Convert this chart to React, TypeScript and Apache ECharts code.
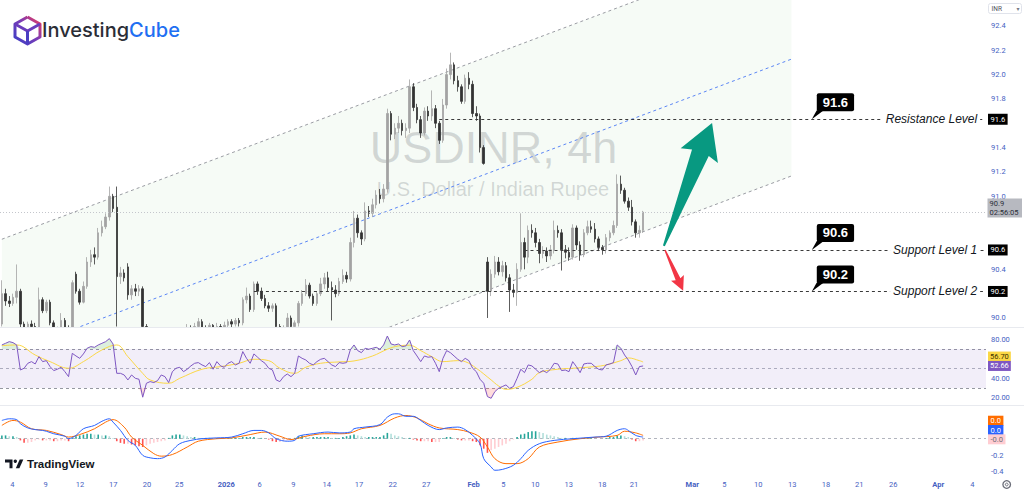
import React, { useEffect, useRef } from "react";
import * as echarts from "echarts";

// ---------- axis slots (one slot per 8h candle) ----------
const SLOTS = 266;
const CATS = Array.from({ length: SLOTS }, (_, i) => String(i));

// ---------- USD/INR candles : [open, close, low, high] ----------
const candles: number[][] = [
  [89.95, 90.2, 89.93, 90.31], [90.2, 90.14, 90.1, 90.24], [90.14, 90.12, 90.09, 90.18], [90.12, 90.17, 90.1, 90.2],
  [90.17, 90.22, 90.12, 90.44], [90.22, 89.95, 89.92, 90.24], [89.95, 89.88, 89.84, 89.97], [89.88, 89.95, 89.85, 89.97],
  [89.95, 89.93, 89.9, 89.98], [89.93, 89.9, 89.87, 89.96], [89.9, 90.15, 89.88, 90.25], [90.15, 90.06, 90.04, 90.17],
  [90.06, 90.13, 90.04, 90.15], [90.13, 89.96, 89.94, 90.15], [89.96, 89.88, 89.84, 89.98], [89.88, 89.9, 89.85, 89.93],
  [89.9, 89.98, 89.88, 90.04], [89.98, 89.92, 89.89, 90.0], [89.92, 89.9, 89.87, 89.94], [89.9, 90.29, 89.88, 90.31],
  [90.36, 90.22, 90.2, 90.38], [90.22, 90.13, 90.11, 90.24], [90.13, 90.26, 90.12, 90.3], [90.26, 90.46, 90.24, 90.5],
  [90.46, 90.52, 90.42, 90.56], [90.52, 90.5, 90.44, 90.58], [90.5, 90.7, 90.48, 90.74], [90.7, 90.75, 90.67, 90.8],
  [90.75, 90.83, 90.73, 90.86], [90.83, 91.0, 90.8, 91.08], [91.0, 90.9, 90.87, 91.02], [90.91, 90.34, 89.93, 91.08],
  [90.34, 90.37, 90.28, 90.42], [90.37, 90.33, 90.3, 90.4], [90.42, 90.19, 90.15, 90.45], [90.19, 90.24, 90.15, 90.27],
  [90.24, 90.22, 90.18, 90.28], [90.22, 90.24, 90.18, 90.27], [90.24, 89.93, 89.88, 90.26], [89.93, 89.85, 89.8, 89.95],
  [89.85, 89.8, 89.75, 89.88], [89.8, 89.78, 89.72, 89.84], [89.78, 89.82, 89.74, 89.86], [89.82, 89.76, 89.72, 89.85],
  [89.76, 89.8, 89.72, 89.84], [89.8, 89.84, 89.77, 89.88], [89.84, 89.82, 89.78, 89.87], [89.82, 89.86, 89.79, 89.9],
  [89.86, 89.84, 89.8, 89.89], [89.84, 89.87, 89.81, 89.9], [89.87, 89.92, 89.84, 89.95], [89.92, 89.89, 89.86, 89.94],
  [89.89, 89.93, 89.86, 89.96], [89.93, 89.97, 89.9, 90.0], [89.97, 89.91, 89.88, 89.99], [89.91, 89.89, 89.86, 89.94],
  [89.89, 89.94, 89.87, 89.96], [89.94, 89.9, 89.87, 89.95], [89.9, 89.93, 89.88, 89.96], [89.93, 89.91, 89.88, 89.95],
  [89.91, 89.94, 89.89, 89.97], [89.94, 89.97, 89.91, 89.99], [89.97, 89.95, 89.92, 89.99], [89.95, 89.98, 89.93, 90.0],
  [89.98, 89.96, 89.93, 90.0], [89.96, 90.15, 89.94, 90.17], [90.15, 90.18, 90.12, 90.25], [90.18, 90.07, 90.05, 90.2],
  [90.07, 90.28, 90.05, 90.3], [90.28, 90.22, 90.19, 90.3], [90.22, 90.16, 90.14, 90.25], [90.16, 90.1, 90.08, 90.19],
  [90.1, 90.08, 90.05, 90.13], [90.08, 90.1, 90.05, 90.12], [90.1, 89.93, 89.9, 90.12], [89.93, 89.88, 89.85, 89.95],
  [89.88, 89.91, 89.86, 89.94], [89.91, 90.0, 89.89, 90.04], [90.0, 89.93, 89.9, 90.02], [89.93, 89.96, 89.9, 89.98],
  [89.96, 90.12, 89.93, 90.14], [90.12, 90.2, 90.1, 90.23], [90.2, 90.27, 90.18, 90.32], [90.27, 90.18, 90.16, 90.29],
  [90.18, 90.12, 90.1, 90.2], [90.12, 90.2, 90.1, 90.22], [90.2, 90.28, 90.18, 90.33], [90.28, 90.33, 90.24, 90.37],
  [90.33, 90.25, 90.22, 90.38], [90.25, 90.23, 89.98, 90.3], [90.23, 90.2, 90.17, 90.27], [90.2, 90.3, 90.18, 90.33],
  [90.3, 90.35, 90.28, 90.4], [90.35, 90.32, 90.29, 90.38], [90.32, 90.62, 90.3, 90.66], [90.62, 90.82, 90.58, 90.88],
  [90.82, 90.7, 90.66, 90.85], [90.7, 90.65, 90.6, 90.72], [90.65, 90.88, 90.63, 90.95], [90.88, 90.86, 90.83, 90.92],
  [90.86, 90.93, 90.83, 90.98], [90.93, 91.01, 90.9, 91.05], [91.01, 90.98, 90.94, 91.06], [90.98, 91.06, 90.95, 91.1],
  [91.06, 91.68, 91.03, 91.72], [91.68, 91.51, 91.46, 91.7], [91.51, 91.56, 91.47, 91.6], [91.56, 91.6, 91.52, 91.66],
  [91.6, 91.54, 91.5, 91.63], [91.54, 91.56, 91.48, 91.6], [91.56, 91.9, 91.52, 91.96], [91.9, 91.73, 91.7, 91.93],
  [91.73, 91.63, 91.6, 91.76], [91.63, 91.52, 91.48, 91.66], [91.52, 91.7, 91.5, 91.73], [91.7, 91.66, 91.62, 91.74],
  [91.66, 91.72, 91.62, 91.87], [91.72, 91.6, 91.56, 91.75], [91.6, 91.46, 91.43, 91.62], [91.46, 91.75, 91.44, 91.8],
  [91.75, 92.0, 91.72, 92.05], [92.0, 92.08, 91.96, 92.18], [92.08, 91.95, 91.92, 92.1], [91.95, 91.9, 91.86, 91.99],
  [91.9, 91.78, 91.76, 91.92], [91.78, 91.97, 91.76, 92.0], [91.97, 91.92, 91.88, 92.02], [91.92, 91.68, 91.65, 91.95],
  [91.68, 91.66, 91.62, 91.74], [91.66, 91.4, 91.36, 91.68], [91.4, 91.27, 91.26, 91.42], [90.46, 90.22, 90.0, 90.5],
  [90.22, 90.36, 90.18, 90.4], [90.36, 90.46, 90.33, 90.51], [90.46, 90.38, 90.35, 90.5], [90.38, 90.43, 90.34, 90.47],
  [90.43, 90.33, 90.3, 90.46], [90.33, 90.23, 90.05, 90.36], [90.23, 90.21, 90.17, 90.28], [90.21, 90.4, 90.1, 90.45],
  [90.4, 90.62, 90.38, 90.86], [90.62, 90.5, 90.4, 90.66], [90.5, 90.72, 90.45, 90.76], [90.72, 90.7, 90.66, 90.77],
  [90.7, 90.62, 90.58, 90.74], [90.62, 90.53, 90.45, 90.65], [90.53, 90.55, 90.49, 90.59], [90.55, 90.51, 90.46, 90.58],
  [90.51, 90.56, 90.48, 90.6], [90.56, 90.72, 90.53, 90.8], [90.72, 90.7, 90.66, 90.76], [90.7, 90.56, 90.39, 90.73],
  [90.56, 90.54, 90.49, 90.6], [90.54, 90.5, 90.47, 90.58], [90.5, 90.74, 90.48, 90.77], [90.74, 90.6, 90.56, 90.76],
  [90.6, 90.52, 90.47, 90.63], [90.52, 90.7, 90.5, 90.73], [90.7, 90.75, 90.68, 90.8], [90.75, 90.73, 90.7, 90.8],
  [90.73, 90.65, 90.62, 90.78], [90.65, 90.58, 90.55, 90.67], [90.58, 90.56, 90.52, 90.6], [90.56, 90.66, 90.53, 90.69],
  [90.66, 90.7, 90.63, 90.72], [90.7, 90.76, 90.68, 90.8], [90.76, 91.1, 90.74, 91.18], [91.1, 91.05, 91.02, 91.17],
  [91.05, 90.96, 90.94, 91.07], [90.96, 90.91, 90.88, 90.99], [90.91, 90.79, 90.76, 90.97], [90.79, 90.7, 90.66, 90.81],
  [90.7, 90.72, 90.66, 90.76], [90.72, 90.87, 90.7, 90.88],
];

// ---------- RSI(14) and its MA ----------
const rsi: number[] = [
  74.2, 75.9, 77.6, 76.6, 74.2, 48.5, 50.3, 55.4, 57.1, 54.7,
  62.2, 57.1, 58.1, 52.0, 47.9, 49.3, 51.3, 46.8, 41.7, 65.6,
  62.9, 60.5, 65.0, 70.8, 72.5, 71.8, 74.2, 75.9, 77.6, 80.7,
  75.2, 45.1, 45.1, 43.4, 38.3, 43.4, 40.0, 39.0, 20.6, 34.9,
  36.6, 35.6, 37.6, 43.4, 41.7, 35.6, 46.8, 50.3, 51.3, 46.8,
  49.3, 52.7, 55.4, 56.1, 53.7, 52.0, 56.1, 49.3, 57.1, 52.7,
  51.3, 55.4, 57.1, 53.7, 55.4, 67.4, 60.5, 55.4, 65.0, 61.6,
  58.1, 55.4, 50.3, 48.5, 38.3, 36.6, 41.7, 44.4, 41.7, 45.1,
  62.9, 60.5, 58.8, 55.4, 53.7, 57.1, 59.5, 60.5, 57.1, 53.7,
  52.0, 56.1, 55.4, 56.1, 69.1, 74.2, 68.4, 66.3, 70.8, 69.8,
  70.8, 71.8, 69.8, 74.2, 83.4, 75.2, 74.2, 75.2, 72.5, 73.2,
  79.3, 68.4, 62.9, 57.1, 62.9, 61.6, 62.2, 55.4, 46.8, 60.5,
  68.4, 66.3, 62.9, 59.5, 57.1, 60.5, 58.1, 50.3, 46.8, 39.0,
  34.9, 21.2, 19.5, 26.3, 29.7, 31.5, 33.2, 29.7, 31.5, 40.0,
  49.3, 45.8, 53.7, 52.7, 49.3, 45.8, 47.9, 45.8, 49.3, 55.4,
  54.7, 47.9, 48.5, 46.8, 57.1, 52.0, 45.8, 54.7, 55.4, 55.4,
  52.0, 49.3, 48.5, 53.7, 54.7, 56.1, 74.2, 70.8, 63.9, 58.8,
  52.0, 43.4, 52.0, 52.66,
];
const rsiMA: number[][] = [
  [0, 73.5], [4, 74.2], [8.5, 63.9], [13, 57.1], [18.4, 50.3], [22, 57.1], [27, 69.1], [30.5, 74.2],
  [34, 62.2], [37.5, 45.1], [40, 38.3], [44.5, 34.9], [48, 40.0], [53.5, 49.3], [59, 52.0], [64, 55.4],
  [68, 59.5], [71.5, 58.1], [75, 50.3], [78.6, 45.1], [82, 51.3], [86, 55.4], [91, 56.8], [94.8, 57.8],
  [100, 62.9], [104, 69.8], [107.4, 73.2], [110, 73.9], [113, 68.4], [116, 62.2], [119, 57.1], [122.7, 58.1],
  [125.4, 57.1], [128, 50.3], [131.7, 38.3], [134, 32.2], [136.2, 28.7], [138.9, 30.8], [142.5, 39.0],
  [145.2, 45.8], [149.7, 49.3], [154.2, 50.3], [159.5, 52.0], [163.1, 53.7], [166.7, 58.1], [169.4, 60.9],
  [172, 58.1], [173, 56.7],
];
const rsiBand = [30, 70];
const rsiMidLine = 50;

// ---------- MACD (12,26,9) ----------
const macdLine: number[][] = [
  [0, 0.22], [2, 0.24], [4, 0.23], [5, 0.18], [7, 0.13], [9, 0.11], [11, 0.1], [12, 0.09], [14, 0.06], [17, 0.03],
  [18, 0.0], [20, 0.04], [22, 0.12], [25, 0.16], [27, 0.21], [29, 0.24], [30, 0.2], [32, 0.1], [34, -0.02], [36, -0.08],
  [38, -0.2], [40, -0.23], [42, -0.24], [44, -0.22], [46, -0.14], [48, -0.06], [51, -0.02], [54, 0.0], [58, 0.01],
  [62, 0.02], [65, 0.06], [68, 0.1], [70, 0.1], [72, 0.07], [74, 0.0], [77, -0.03], [79, -0.02], [80, 0.03], [84, 0.06],
  [88, 0.08], [91, 0.07], [94, 0.08], [95, 0.12], [98, 0.14], [102, 0.17], [104, 0.26], [106, 0.3], [107, 0.3],
  [109, 0.27], [111, 0.27], [113, 0.22], [115, 0.16], [118, 0.11], [120, 0.13], [123, 0.14], [125, 0.11], [127, 0.04],
  [129, -0.06], [130, -0.24], [132, -0.34], [133, -0.38], [135, -0.37], [138, -0.32], [140, -0.24], [142, -0.14],
  [145, -0.06], [149, -0.02], [154, 0.0], [160, 0.02], [163, 0.03], [166, 0.1], [168, 0.12], [169, 0.1], [171, 0.04],
  [173, 0.02],
];
const signalLine: number[][] = [
  [0, 0.16], [3, 0.22], [5, 0.2], [8, 0.12], [12, 0.1], [16, 0.05], [18, 0.02], [21, 0.05], [25, 0.12], [28, 0.2],
  [30, 0.23], [33, 0.14], [35, 0.02], [38, -0.08], [41, -0.18], [43, -0.21], [46, -0.19], [50, -0.1], [53, -0.03],
  [58, 0.0], [62, 0.01], [67, 0.05], [71, 0.08], [75, 0.03], [78, -0.01], [82, 0.03], [87, 0.06], [91, 0.06],
  [94, 0.07], [97, 0.12], [102, 0.16], [106, 0.25], [109, 0.28], [112, 0.25], [115, 0.18], [118, 0.13], [123, 0.11],
  [126, 0.08], [129, 0.02], [131, -0.1], [133, -0.24], [136, -0.3], [139, -0.3], [142, -0.24], [145, -0.1],
  [150, -0.04], [156, 0.0], [161, 0.02], [166, 0.04], [168, 0.09], [171, 0.07], [173, 0.04],
];
const histogram: number[] = [
  0.04, 0.04, 0.03, 0.03, 0.02, -0.02, -0.05, -0.05, -0.04, -0.02,
  -0.01, -0.02, -0.02, -0.02, -0.03, -0.03, -0.02, -0.02, -0.03, 0.01,
  0.03, 0.04, 0.05, 0.06, 0.06, 0.05, 0.05, 0.04, 0.04, 0.03,
  0.01, -0.03, -0.05, -0.06, -0.06, -0.07, -0.08, -0.09, -0.1, -0.08,
  -0.06, -0.05, -0.04, -0.03, -0.02, 0.01, 0.04, 0.05, 0.05, 0.04,
  0.03, 0.02, 0.02, 0.01, 0.01, 0.01, 0.01, 0.0, 0.01, 0.01,
  0.0, 0.01, 0.01, 0.01, 0.01, 0.02, 0.02, 0.02, 0.02, 0.01,
  0.01, 0.0, -0.01, -0.03, -0.04, -0.04, -0.03, -0.02, -0.01, 0.01,
  0.03, 0.04, 0.03, 0.02, 0.02, 0.02, 0.02, 0.02, 0.02, 0.01,
  0.01, 0.01, 0.02, 0.03, 0.04, 0.05, 0.04, 0.03, 0.02, 0.02,
  0.02, 0.02, 0.02, 0.04, 0.07, 0.06, 0.04, 0.03, 0.02, 0.01,
  0.01, -0.01, -0.02, -0.03, -0.03, -0.03, -0.04, -0.04, -0.04, 0.01,
  0.02, 0.02, 0.01, -0.01, -0.02, -0.02, -0.02, -0.03, -0.04, -0.08,
  -0.12, -0.17, -0.14, -0.12, -0.1, -0.08, -0.06, -0.03, -0.01, 0.02,
  0.05, 0.06, 0.08, 0.09, 0.09, 0.08, 0.07, 0.05, 0.04, 0.03,
  0.02, 0.01, 0.01, 0.0, 0.01, 0.01, 0.0, 0.01, 0.01, 0.01,
  0.0, 0.0, 0.0, 0.01, 0.02, 0.02, 0.04, 0.04, 0.03, 0.02,
  -0.01, -0.03, -0.03, -0.02,
];

// ---------- tick labels ----------
const timeTickPos = [2.82, 11.83, 21.08, 30.06, 39.15, 47.87, 60.55, 69.56, 78.62, 87.63, 96.34, 105.44, 114.5,
  127.29, 135.27, 143.9, 152.91, 161.98, 170.53, 186.25, 194.89, 204.06, 213.23, 222.32, 231.3, 240.47, 252.62, 261.79];
const timeTickText = ["4", "9", "12", "17", "20", "25", "2026", "6", "9", "14", "17", "22", "27",
  "Feb", "5", "10", "13", "18", "21", "Mar", "5", "10", "13", "18", "21", "26", "Apr", "4"];
const boldTicks = ["2026", "Feb", "Mar", "Apr"];
const priceTicks = [90.0, 90.4, 91.0, 91.2, 91.4, 91.8, 92.0, 92.2, 92.4];
const rsiTicks = [20, 40, 80];
const macdTicks = [-0.4, -0.2];

// ---------- drawings ----------
const channelUpper = [[0, 90.647], [213, 93.086]];
const channelMid = [[0, 89.687], [213, 92.127]];
const channelLower = [[0, 88.727], [213, 91.167]];
const levels = [
  { name: "Resistance Level", price: 91.633, label: "91.6", from: 118 },
  { name: "Support Level 1", price: 90.559, label: "90.6", from: 141 },
  { name: "Support Level 2", price: 90.218, label: "90.2", from: 68 },
];
const levelEnd = 265;
const calloutIdx = 218.5;
const upArrow = { from: [178.6, 90.592], to: [191.6, 91.602] };
const downArrow = { from: [178.9, 90.559], to: [183.8, 90.224] };
const countdown = "02:56:05";

const AXIS_BLUE = "#4661c2";
const FONT = "Roboto";

function histColor(i: number) {
  const v = histogram[i];
  const p = i > 0 ? histogram[i - 1] : v;
  if (v >= 0) return v >= p ? "#26a69a" : "#b2dfdb";
  return v < p ? "#ff5252" : "#ffcdd2";
}

function buildOption(): any {
  const lastPrice = candles[candles.length - 1][1];
  const hiddenCat = (g: number) => ({
    type: "category", gridIndex: g, data: CATS, show: false, boundaryGap: true,
  });
  const yBase = {
    position: "right", axisLine: { show: false }, axisTick: { show: false }, splitLine: { show: false }, z: 10,
  };
  const dash = [3, 3];
  return {
    animation: false,
    backgroundColor: "#ffffff",
    grid: [
      { left: 0, top: 0, width: 986, height: 327, outerBoundsMode: "none" },
      { left: 0, top: 328, width: 986, height: 77, outerBoundsMode: "none" },
      { left: 0, top: 406, width: 986, height: 71, outerBoundsMode: "none" },
    ],
    xAxis: [
      hiddenCat(0), hiddenCat(1), hiddenCat(2),
      {
        type: "value", gridIndex: 2, min: -0.5, max: SLOTS - 0.5, position: "bottom", z: 10,
        axisLine: { show: false }, axisTick: { show: false }, splitLine: { show: false },
        axisLabel: {
          customValues: timeTickPos, margin: 3, color: AXIS_BLUE, fontSize: 7.5, fontFamily: FONT,
          formatter: (v: number) => {
            const k = timeTickPos.findIndex((p) => Math.abs(p - v) < 1e-6);
            const t = k >= 0 ? timeTickText[k] : "";
            return boldTicks.includes(t) ? `{b|${t}}` : t;
          },
          rich: { b: { fontWeight: "bold", color: AXIS_BLUE, fontSize: 7.5, fontFamily: FONT } },
        },
      },
    ],
    yAxis: [
      {
        ...yBase, type: "value", gridIndex: 0, min: 89.926, max: 92.613,
        axisLabel: { customValues: priceTicks, formatter: (v: number) => v.toFixed(1), color: AXIS_BLUE, fontSize: 7.5, fontFamily: FONT, margin: 5 },
      },
      {
        ...yBase, type: "value", gridIndex: 1, min: 12.6, max: 91.6,
        axisLabel: { customValues: rsiTicks, formatter: (v: number) => v.toFixed(2), color: AXIS_BLUE, fontSize: 7.5, fontFamily: FONT, margin: 5 },
      },
      {
        ...yBase, type: "value", gridIndex: 2, min: -0.461, max: 0.394,
        axisLabel: { customValues: macdTicks, formatter: (v: number) => v.toFixed(1), color: AXIS_BLUE, fontSize: 7.5, fontFamily: FONT, margin: 5 },
      },
    ],
    series: [
      {
        type: "custom", name: "channelFill", xAxisIndex: 0, yAxisIndex: 0, clip: true, z: 1, silent: true,
        data: [[0, 91]],
        renderItem: (_p: any, api: any) => {
          const pts = [channelUpper[0], channelUpper[1], channelLower[1], channelLower[0]].map((p) => api.coord(p));
          return { type: "polygon", shape: { points: pts }, style: { fill: "rgba(76,175,80,0.052)" } };
        },
      },
      ...[
        { d: channelUpper, c: "#9a9ca3" },
        { d: channelMid, c: "#5b86f5" },
        { d: channelLower, c: "#9a9ca3" },
      ].map((s) => ({
        type: "line", xAxisIndex: 0, yAxisIndex: 0, data: s.d, symbol: "none", silent: true, z: 2,
        lineStyle: { color: s.c, width: 1, type: [3, 3] },
      })),
      {
        type: "candlestick", name: "USDINR", xAxisIndex: 0, yAxisIndex: 0, data: candles, barWidth: 2, clip: true, z: 3,
        itemStyle: { color: "#a3a3a3", color0: "#333333", borderColor: "#a3a3a3", borderColor0: "#333333", borderWidth: 0.8 },
        markLine: {
          silent: true, symbol: ["none", "none"], label: { show: false }, animation: false,
          data: [
            ...levels.map((l) => [
              { coord: [l.from, l.price], lineStyle: { color: "#3a3a3a", width: 1, type: [3, 3] } },
              { coord: [levelEnd, l.price] },
            ]),
            { yAxis: lastPrice, lineStyle: { color: "#c4c6cc", width: 1, type: [1, 2] } },
          ],
        },
      },
      // RSI band (30-70)
      {
        type: "custom", name: "rsiBand", xAxisIndex: 1, yAxisIndex: 1, z: 5, silent: true,
        data: [[0, 50]],
        renderItem: (params: any, api: any) => {
          const cs = params.coordSys;
          const yTop = api.coord([0, rsiBand[1]])[1];
          const yBot = api.coord([0, rsiBand[0]])[1];
          return { type: "rect", shape: { x: cs.x, y: yTop, width: cs.width, height: yBot - yTop }, style: { fill: "rgba(126,87,194,0.1)" } };
        },
      },
      {
        type: "line", xAxisIndex: 1, yAxisIndex: 1, data: rsi.map((v) => Math.max(v, rsiBand[1])), symbol: "none", silent: true,
        lineStyle: { opacity: 0 }, areaStyle: { origin: rsiBand[1], color: "rgba(76,175,80,0.28)" }, z: 5,
      },
      {
        type: "line", xAxisIndex: 1, yAxisIndex: 1, data: rsi.map((v) => Math.min(v, rsiBand[0])), symbol: "none", silent: true,
        lineStyle: { opacity: 0 }, areaStyle: { origin: rsiBand[0], color: "rgba(255,82,82,0.28)" }, z: 5,
      },
      {
        type: "line", name: "RSI", xAxisIndex: 1, yAxisIndex: 1, data: rsi, symbol: "none", z: 7,
        lineStyle: { color: "#7e57c2", width: 1 },
        markLine: {
          silent: true, symbol: ["none", "none"], label: { show: false },
          data: [
            { yAxis: rsiBand[1], lineStyle: { color: "#9598a1", width: 1, type: dash } },
            { yAxis: rsiMidLine, lineStyle: { color: "#b2b5be", width: 1, type: dash } },
            { yAxis: rsiBand[0], lineStyle: { color: "#9598a1", width: 1, type: dash } },
          ],
        },
      },
      {
        type: "line", name: "RSI MA", xAxisIndex: 1, yAxisIndex: 1, data: rsiMA, symbol: "none", smooth: 0.4, z: 6,
        lineStyle: { color: "#fbd745", width: 1 },
      },
      // MACD
      {
        type: "bar", name: "Histogram", xAxisIndex: 2, yAxisIndex: 2, barWidth: 1.6, z: 5,
        data: histogram.map((v, i) => ({ value: v, itemStyle: { color: histColor(i) } })),
        markLine: {
          silent: true, symbol: ["none", "none"], label: { show: false },
          data: [{ yAxis: 0, lineStyle: { color: "#b2b5be", width: 1, type: dash } }],
        },
      },
      {
        type: "line", name: "MACD", xAxisIndex: 2, yAxisIndex: 2, data: macdLine, symbol: "none", smooth: 0.35, z: 7,
        lineStyle: { color: "#2962ff", width: 1 },
      },
      {
        type: "line", name: "Signal", xAxisIndex: 2, yAxisIndex: 2, data: signalLine, symbol: "none", smooth: 0.35, z: 6,
        lineStyle: { color: "#ff6d00", width: 1 },
      },
    ],
  };
}

function arrowPts(T: number[], P: number[], tailHalf: number, shaftHalf: number, headLen: number, headHalf: number, notch: number) {
  const dx = P[0] - T[0], dy = P[1] - T[1];
  const L = Math.hypot(dx, dy);
  const ux = dx / L, uy = dy / L, nx = -uy, ny = ux;
  const at = (a: number, w: number) => [T[0] + ux * a + nx * w, T[1] + uy * a + ny * w];
  const hb = L - headLen;
  return [at(0, -tailHalf), at(hb + notch, -shaftHalf), at(hb, -headHalf), at(L, 0), at(hb, headHalf), at(hb + notch, shaftHalf), at(0, tailHalf)];
}

function buildGraphics(chart: any): any[] {
  const xPx = (i: number) => chart.convertToPixel({ xAxisIndex: 3 }, i) as number;
  const yPx = (ax: number, v: number) => chart.convertToPixel({ yAxisIndex: ax }, v) as number;
  const els: any[] = [];
  const top = 100;

  // mask below the price pane so candles below its range stay inside it
  els.push({ type: "rect", silent: true, z: 4, shape: { x: 0, y: 327.5, width: 986, height: 150 }, style: { fill: "#ffffff" } });

  // pane separators
  [327.5, 405.5].forEach((y) =>
    els.push({ type: "line", silent: true, z: top, shape: { x1: 0, y1: y, x2: 1024, y2: y }, style: { stroke: "#e8eaef", lineWidth: 1 } })
  );

  // watermark
  els.push({
    type: "text", silent: true, z: 0, x: 493.5, y: 147,
    style: { text: "USDINR, 4h", fontSize: 45, fontFamily: "Liberation Sans", fill: "rgba(120,123,134,0.28)", align: "center", verticalAlign: "middle" },
  });
  els.push({
    type: "text", silent: true, z: 0, x: 493, y: 189,
    style: { text: "U.S. Dollar / Indian Rupee", fontSize: 20, fontFamily: "Liberation Sans", fill: "rgba(120,123,134,0.28)", align: "center", verticalAlign: "middle" },
  });

  // InvestingCube logo
  const grad = new echarts.graphic.LinearGradient(0, 1, 1, 0, [
    { offset: 0, color: "#3a3fc6" }, { offset: 0.55, color: "#7b3cb6" }, { offset: 1, color: "#ee3a5b" },
  ]);
  els.push({
    type: "polyline", silent: true, z: top,
    shape: { points: [[27.5, 17], [40, 24], [40, 37], [27.5, 44], [15, 37], [15, 24], [27.5, 17]] },
    style: { stroke: grad, fill: "none", lineWidth: 3, lineJoin: "round" },
  });
  els.push({
    type: "polyline", silent: true, z: top,
    shape: { points: [[15, 24], [27.5, 31], [40, 24]] },
    style: { stroke: "#6a3cbc", fill: "none", lineWidth: 3, lineJoin: "round" },
  });
  els.push({ type: "line", silent: true, z: top, shape: { x1: 27.5, y1: 31, x2: 27.5, y2: 44 }, style: { stroke: "#4a3ec2", lineWidth: 3 } });
  els.push({
    type: "text", silent: true, z: top, x: 42, y: 29.5,
    style: {
      text: "{a|Investing}{b|Cube}", verticalAlign: "middle",
      rich: {
        a: { fill: "#2b2d36", fontSize: 20, fontFamily: "Inter", fontWeight: 500 },
        b: { fill: "#1f6ff2", fontSize: 20, fontFamily: "Inter", fontWeight: 500 },
      },
    },
  });

  // TradingView logo
  els.push({ type: "polygon", silent: true, z: top, shape: { points: [[5, 459.5], [12.5, 459.5], [12.5, 468.3], [9.5, 468.3], [9.5, 462.5], [5, 462.5]] }, style: { fill: "#131722" } });
  els.push({ type: "circle", silent: true, z: top, shape: { cx: 15.3, cy: 461.2, r: 1.7 }, style: { fill: "#131722" } });
  els.push({ type: "polygon", silent: true, z: top, shape: { points: [[15.8, 468.3], [19.4, 468.3], [23.3, 459.5], [19.7, 459.5]] }, style: { fill: "#131722" } });
  els.push({
    type: "text", silent: true, z: top, x: 27, y: 464,
    style: { text: "TradingView", fontSize: 11.5, fontWeight: "bold", fontFamily: "Liberation Sans", fill: "#131722", verticalAlign: "middle" },
  });

  // INR selector and settings icon
  els.push({ type: "rect", silent: true, z: top, shape: { x: 988.5, y: 3.5, width: 33, height: 10, r: 2 }, style: { fill: "#fff", stroke: "#e0e3eb", lineWidth: 1 } });
  els.push({ type: "text", silent: true, z: top, x: 991.5, y: 8.7, style: { text: "INR", fontSize: 6.5, fontFamily: FONT, fill: "#50535e", verticalAlign: "middle" } });
  els.push({ type: "text", silent: true, z: top, x: 1018, y: 8.7, style: { text: "▾", fontSize: 6, fontFamily: "DejaVu Sans", fill: "#787b86", align: "center", verticalAlign: "middle" } });
  els.push({ type: "circle", silent: true, z: top, shape: { cx: 1006.7, cy: 484.5, r: 3.8 }, style: { fill: "none", stroke: "#6a6d78", lineWidth: 1.3 } });
  els.push({ type: "circle", silent: true, z: top, shape: { cx: 1006.7, cy: 484.5, r: 1.4 }, style: { fill: "none", stroke: "#6a6d78", lineWidth: 1 } });

  // level texts, callouts and axis tags
  const xEnd = xPx(levelEnd);
  const xc = xPx(calloutIdx);
  levels.forEach((l) => {
    const ly = yPx(0, l.price);
    els.push({
      type: "text", silent: true, z: top, x: xEnd - 4, y: ly,
      style: {
        text: l.name, fontSize: 12, fontStyle: "italic", fontFamily: "Liberation Sans", fill: "#131722",
        align: "right", verticalAlign: "middle", backgroundColor: "#ffffff", padding: [1, 3],
      },
    });
    els.push({ type: "polygon", silent: true, z: top, shape: { points: [[xc + 5, ly - 9], [xc + 12, ly - 9], [xc, ly]] }, style: { fill: "#000" } });
    els.push({
      type: "text", silent: true, z: top, x: xc + 5, y: ly - 17,
      style: {
        text: l.label, fontSize: 13, fontWeight: "bold", fontFamily: "Liberation Sans", fill: "#fff",
        backgroundColor: "#000", borderRadius: 2, padding: [3, 6, 2, 6], verticalAlign: "middle",
      },
    });
    els.push({
      type: "text", silent: true, z: top, x: 988, y: ly,
      style: { text: l.label, fontSize: 7.5, fontFamily: FONT, fill: "#fff", backgroundColor: "#000", padding: [1.5, 2.5], verticalAlign: "middle" },
    });
  });

  // last price tag with countdown
  const lastPrice = candles[candles.length - 1][1];
  els.push({
    type: "text", silent: true, z: top, x: 987.5, y: yPx(0, lastPrice) - 4,
    style: {
      text: `${lastPrice.toFixed(1)}\n${countdown}`, fontSize: 7.5, lineHeight: 8.5, fontFamily: FONT, fill: "#2a2e39",
      backgroundColor: "#b7b9c0", padding: [1, 1.5, 1, 2], verticalAlign: "middle", width: 31,
    },
  });

  // arrows
  const g = arrowPts([xPx(upArrow.from[0]), yPx(0, upArrow.from[1])], [xPx(upArrow.to[0]), yPx(0, upArrow.to[1])], 1, 9, 35, 20, 3);
  els.push({ type: "polygon", silent: true, z: top, shape: { points: g }, style: { fill: "#089981" } });
  const r = arrowPts([xPx(downArrow.from[0]), yPx(0, downArrow.from[1])], [xPx(downArrow.to[0]), yPx(0, downArrow.to[1])], 0.7, 2.6, 14, 7, 1.5);
  els.push({ type: "polygon", silent: true, z: top, shape: { points: r }, style: { fill: "#f23645" } });

  // RSI tags
  const rsiLast = rsi[rsi.length - 1];
  const maLast = rsiMA[rsiMA.length - 1][1];
  const yr = yPx(1, rsiLast);
  els.push({
    type: "text", silent: true, z: top, x: 988, y: yr - 9.4,
    style: { text: maLast.toFixed(2), fontSize: 7.5, fontFamily: FONT, fill: "#3b3200", backgroundColor: "#fbd745", padding: [1, 2], verticalAlign: "middle" },
  });
  els.push({
    type: "text", silent: true, z: top, x: 988, y: yr,
    style: { text: rsiLast.toFixed(2), fontSize: 7.5, fontFamily: FONT, fill: "#fff", backgroundColor: "#7e57c2", padding: [1, 2], verticalAlign: "middle" },
  });

  // MACD tags
  const y0 = yPx(2, 0);
  const tags = [
    { t: signalLine[signalLine.length - 1][1].toFixed(1), bg: "#ff6d00", fg: "#fff", dy: -18 },
    { t: macdLine[macdLine.length - 1][1].toFixed(1), bg: "#2962ff", fg: "#fff", dy: -8.7 },
    { t: histogram[histogram.length - 1].toFixed(1), bg: "#ffcdd2", fg: "#6b6e78", dy: 0.6 },
  ];
  tags.forEach((tg) =>
    els.push({
      type: "text", silent: true, z: top, x: 988, y: y0 + tg.dy,
      style: { text: tg.t, fontSize: 7.5, fontFamily: FONT, fill: tg.fg, backgroundColor: tg.bg, padding: [1, 2.5], verticalAlign: "middle" },
    })
  );
  return els;
}

export default function App() {
  const ref = useRef<HTMLDivElement>(null);
  useEffect(() => {
    if (!ref.current) return;
    const chart = echarts.init(ref.current, null, { renderer: "svg" });
    chart.setOption(buildOption());
    chart.setOption({ graphic: { elements: buildGraphics(chart) } });
    return () => chart.dispose();
  }, []);
  return (
    <div
      ref={ref}
      style={{ position: "fixed", left: 0, top: 0, width: 1024, height: 491, background: "#ffffff" }}
    />
  );
}
